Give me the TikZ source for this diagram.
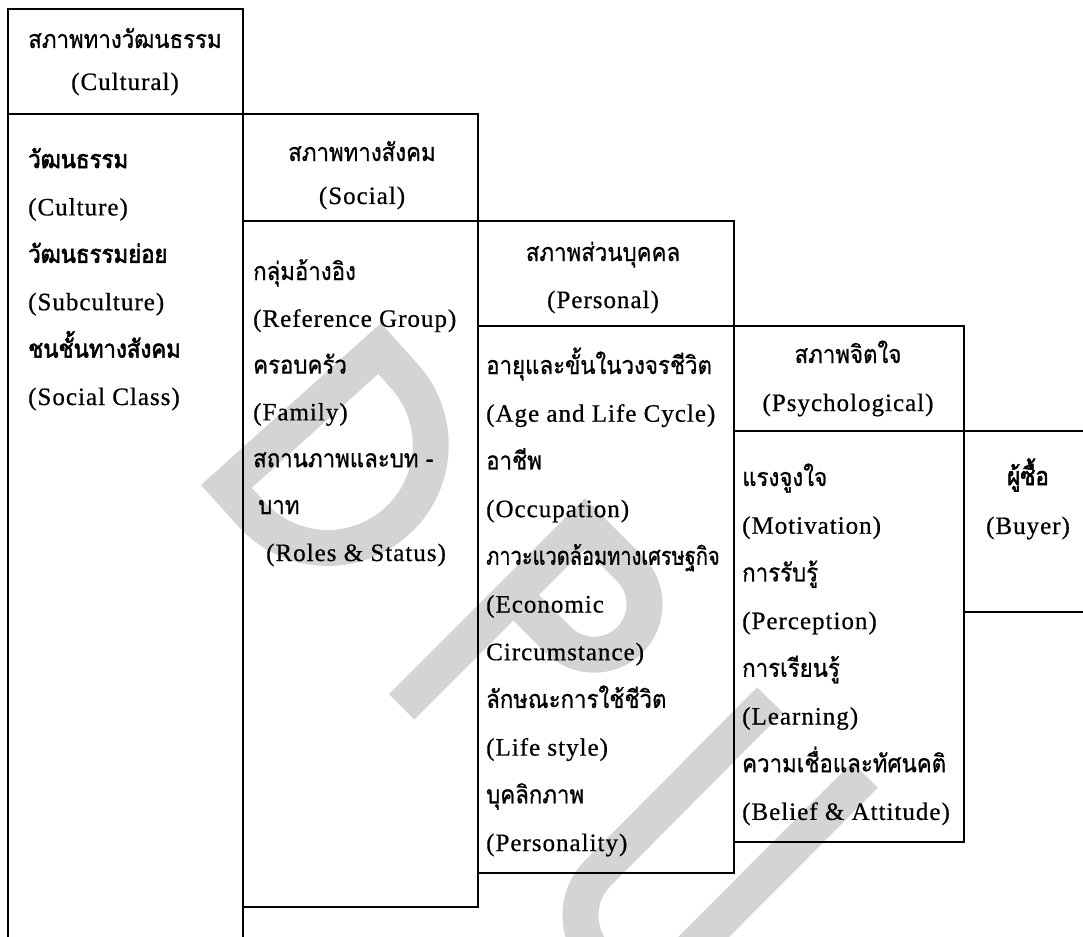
\documentclass[tikz,border=0pt]{standalone}
\usepackage{fontspec}
\setmainfont{Liberation Serif}[LetterSpace=4, FakeBold=0.6]
\newfontfamily\thaifont[Script=Thai, FakeStretch=0.89, FakeBold=0.8]{Loma}
\newfontfamily\thaitight[Script=Thai, FakeStretch=0.80, FakeBold=0.8]{Loma}
\newfontfamily\thaiheavy[Script=Thai, FakeStretch=0.89, FakeBold=2.2]{Loma}
\newcommand\thai[1]{{\thaifont #1}}
\newcommand\thaib[1]{{\thaiheavy #1}}
\newcommand\thait[1]{{\thaitight #1}}
\definecolor{wmgray}{RGB}{212,212,212}
\begin{document}
\begin{tikzpicture}[x=1pt,y=-1pt,
  cell/.style={draw=black, line width=2.6pt, anchor=north west,
    inner sep=0pt, outer sep=0pt},
  body/.style={anchor=base west, inner sep=0pt, font=\fontsize{25}{30}\selectfont},
  head/.style={anchor=base, inner sep=0pt, font=\fontsize{25}{30}\selectfont},
  logo band/.style={draw=wmgray, line width=36pt, line join=miter, line cap=butt}]
\useasboundingbox (0,0) rectangle (1083,936);
\clip (0,0) rectangle (1083,936);

% faint D, P, U letters behind the table
\begin{scope}[shift={(201,485)}, rotate=42]
  \draw[logo band] (18,55) -- (18,18) -- (224,18) -- (224,55)
    arc[start angle=0, end angle=180, radius=103] -- cycle;
\end{scope}
\begin{scope}[shift={(389,694)}, rotate=45]
  \draw[logo band] (0,18) -- (259,18) -- (259,81.5)
    arc[start angle=0, end angle=180, radius=50.5] -- (158,18);
\end{scope}
\draw[logo band] (770,700) -- (598,873)
  arc[start angle=225, end angle=45, radius=60] -- (865,775);

% header and body cells, stepping down to the right
\node[cell, minimum width=235pt, minimum height=105pt] (cultH) at (8,9) {};
\node[cell, minimum width=235pt, minimum height=860pt] (cultB) at (8,114) {};
\node[cell, minimum width=235pt, minimum height=107pt] (socH) at (243,114) {};
\node[cell, minimum width=235pt, minimum height=686pt] (socB) at (243,221) {};
\node[cell, minimum width=256pt, minimum height=105pt] (perH) at (478,221) {};
\node[cell, minimum width=256pt, minimum height=547pt] (perB) at (478,326) {};
\node[cell, minimum width=230pt, minimum height=105pt] (psyH) at (734,326) {};
\node[cell, minimum width=230pt, minimum height=411pt] (psyB) at (734,431) {};
\node[cell, minimum width=160pt, minimum height=181pt] (buyB) at (964,431) {};

% headings
\node[head] (cultT1) at (125,48) {\thai{สภาพทางวัฒนธรรม}};
\node[head] (cultT2) at (125,90) {(Cultural)};
\node[head] (socT1) at (362,161) {\thai{สภาพทางสังคม}};
\node[head] (socT2) at (362,204) {(Social)};
\node[head] (perT1) at (603,261) {\thai{สภาพส่วนบุคคล}};
\node[head] (perT2) at (603,308) {(Personal)};
\node[head] (psyT1) at (848,363) {\thai{สภาพจิตใจ}};
\node[head] (psyT2) at (848,411) {(Psychological)};

% cultural factors
\foreach \t [count=\i from 0] in {{\thaib{วัฒนธรรม}}, {(Culture)},
    {\thaib{วัฒนธรรมย่อย}}, {(Subculture)}, {\thaib{ชนชั้นทางสังคม}},
    {(Social Class)}}
  \node[body] (cult-\i) at (28,168+47.4*\i) {\t};

% social factors
\foreach \t [count=\i from 0] in {{\thai{กลุ่มอ้างอิง}}, {(Reference Group)},
    {\thai{ครอบครัว}}, {(Family)}, {\thai{สถานภาพและบท -}}}
  \node[body] (soc-\i) at (253,280+46.8*\i) {\t};
\node[body] (soc-5) at (258,514) {\thai{บาท}};
\node[body] (soc-6) at (266,561) {(Roles \& Status)};

% personal factors
\foreach \t [count=\i from 0] in {{\thai{อายุและขั้นในวงจรชีวิต}},
    {(Age and Life Cycle)}, {\thai{อาชีพ}}, {(Occupation)},
    {\thait{ภาวะแวดล้อมทางเศรษฐกิจ}}, {(Economic}, {Circumstance)},
    {\thai{ลักษณะการใช้ชีวิต}}, {(Life style)}, {\thai{บุคลิกภาพ}},
    {(Personality)}}
  \node[body] (per-\i) at (486,374+47.7*\i) {\t};

% psychological factors
\foreach \t [count=\i from 0] in {{\thai{แรงจูงใจ}}, {(Motivation)},
    {\thai{การรับรู้}}, {(Perception)}, {\thai{การเรียนรู้}}, {(Learning)},
    {\thai{ความเชื่อและทัศนคติ}}, {(Belief \& Attitude)}}
  \node[body] (psy-\i) at (742,486+47.7*\i) {\t};

% buyer
\node[head] (buyT1) at (1028,485) {\thaib{ผู้ซื้อ}};
\node[head] (buyT2) at (1028,534) {(Buyer)};
\end{tikzpicture}
\end{document}
